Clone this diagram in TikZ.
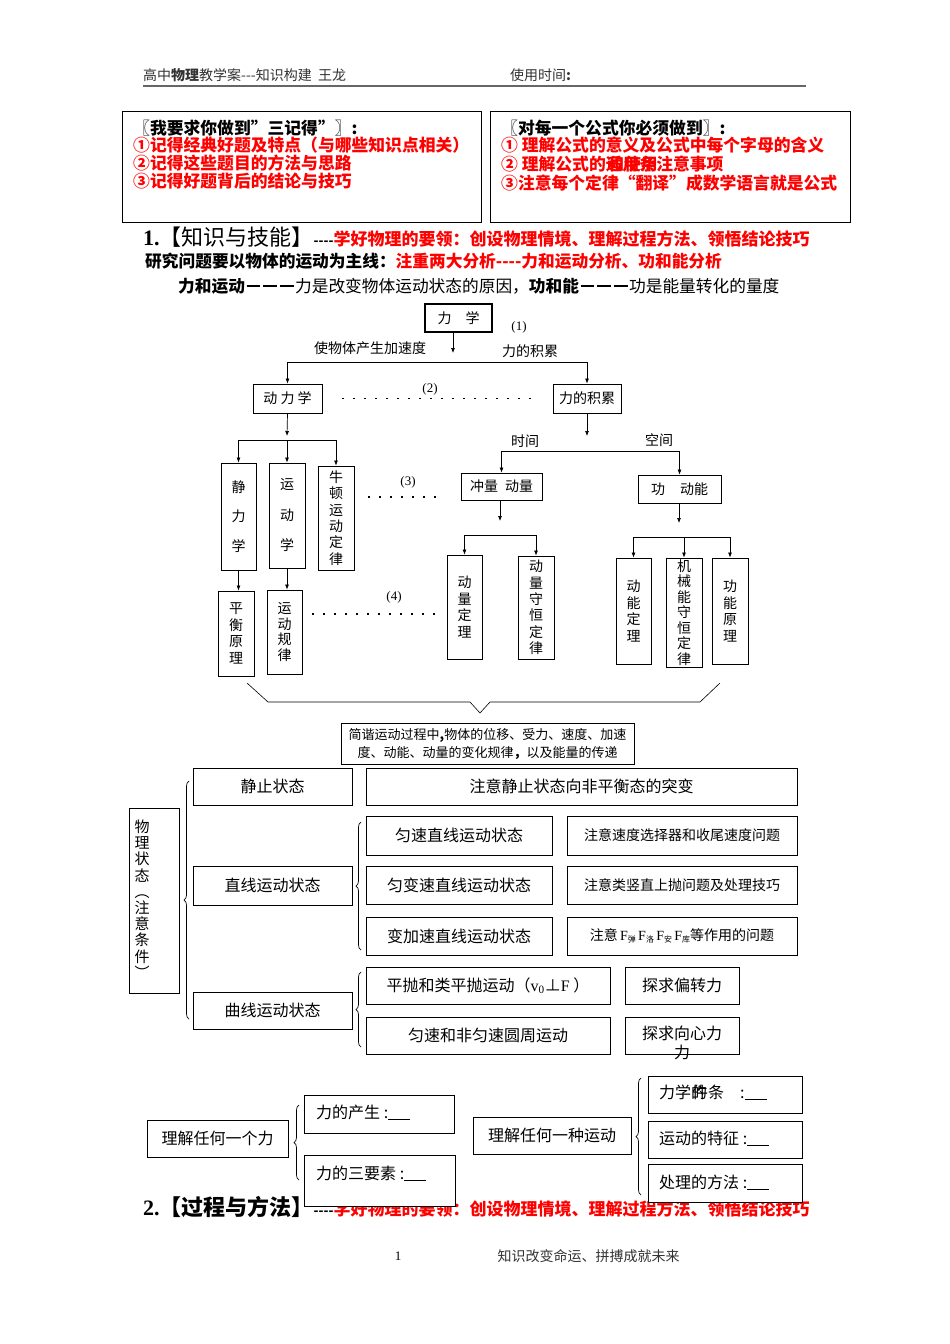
\documentclass[tikz,border=0pt]{standalone}
\usepackage{fontspec}
\setmainfont{Noto Sans CJK SC}
\newfontfamily\rmlatin{Liberation Serif}
\usetikzlibrary{arrows.meta,positioning,calc,decorations.pathreplacing}
\newcommand{\szhead}{\fontsize{14}{16}\selectfont}
\newcommand{\szbox}{\fontsize{16.8}{19}\selectfont}
\newcommand{\szsec}{\fontsize{22}{25}\selectfont}
\newcommand{\szline}{\fontsize{16.7}{20}\selectfont}
\newcommand{\szdiag}{\fontsize{14}{16.4}\selectfont}
\newcommand{\sznote}{\fontsize{13}{18}\selectfont}
\newcommand{\sztab}{\fontsize{16}{19}\selectfont}
\newcommand{\szcell}{\fontsize{14}{17}\selectfont}
\newcommand{\Fsub}[1]{\,{\rmlatin\fontsize{14}{17}\selectfont F}\raisebox{-1.5pt}{\fontsize{8}{8}\selectfont #1}}
\newcommand{\blank}{\rule[-1.5pt]{22pt}{0.8pt}}
\newcommand{\bardash}{\makebox[1em]{\rule[0.33em]{0.82em}{0.1em}}}

\begin{document}
\begin{tikzpicture}[
  x=1pt, y=-1pt,
  box/.style={draw, line width=0.9pt, inner sep=0pt, fill=white},
  vbox/.style={box, align=center, font=\szdiag},
  txt/.style={inner sep=0pt, anchor=west},
  arr/.style={-{Latex[length=5pt,width=4pt]}, line width=0.7pt},
  rail/.style={line width=0.7pt},
  dots/.style={line width=1.1pt, dash pattern=on 1.5pt off 9.5pt},
  brc/.style={decorate, decoration={brace, amplitude=5pt}, line width=0.7pt},
  tag/.style={inner sep=0pt, font=\rmlatin\fontsize{13}{15}\selectfont},
]
  % Page
  \fill[white] (0,0) rectangle (950,1344);
  \useasboundingbox (0,0) rectangle (950,1344);

  % Header
  \node[txt, font=\szhead, text=black!80] (hdr) at (143,75) {高中\textbf{物理}教学案-{}-{}-知识构建\ \ 王龙};
  \node[txt, font=\szhead, text=black!80] (usetime) at (510,75) {使用时间\textbf{:}};
  \draw[line width=2pt, black!60] (143,86) -- (806,86);

  % Requirement boxes
  \node[box, line width=1.1pt, anchor=north west, minimum width=359pt, minimum height=111pt] (reqL) at (122,111) {};
  \node[box, line width=1.1pt, anchor=north west, minimum width=360pt, minimum height=111pt] (reqR) at (490,111) {};
  \node[txt, font=\szbox\bfseries] (reqL0) at (133,128) {〖我要求你做到”三记得”〗:};
  \node[txt, font=\szbox\bfseries, text=red] (reqL1) at (133,145) {①记得经典好题及特点（与哪些知识点相关）};
  \node[txt, font=\szbox\bfseries, text=red] (reqL2) at (133,163) {②记得这些题目的方法与思路};
  \node[txt, font=\szbox\bfseries, text=red] (reqL3) at (133,181) {③记得好题背后的结论与技巧};
  \node[txt, font=\szbox\bfseries] (reqR0) at (501,128) {〖对每一个公式你必须做到〗:};
  \node[txt, font=\szbox\bfseries, text=red] (reqR1) at (501,145) {① 理解公式的意义及公式中每个字母的含义};
  \node[txt, font=\szbox\bfseries, text=red] (reqR2) at (501,164) {② 理解公式的\rlap{\hspace{1.5pt}和使用}适用条注意事项};
  \node[txt, font=\szbox\bfseries, text=red] (reqR3) at (501,183) {③注意每个定律“翻译”成数学语言就是公式};

  % Section 1
  \node[txt] (sec1) at (143,237) {{\rmlatin\bfseries\szsec 1.}{\szsec【知识与技能】}{\bfseries\fontsize{13}{15}\selectfont -{}-{}-{}-}{\color{red}\bfseries\fontsize{17}{20}\selectfont 学好物理的要领：创设物理情境、理解过程方法、领悟结论技巧}};
  \node[txt, font=\szline\bfseries] (main) at (145,261) {研究问题要以物体的运动为主线：{\color{red}注重两大分析-{}-{}-{}-力和运动分析、功和能分析}};
  \node[txt, font=\fontsize{16.7}{20}\selectfont] (force) at (178,286) {\textbf{力和运动\bardash\bardash\bardash}力是改变物体运动状态的原因，\textbf{功和能\bardash\bardash\bardash}功是能量转化的量度};

  % Mechanics tree
  \node[box, line width=1.1pt, minimum width=67pt, minimum height=28pt, font=\szdiag] (lixue) at (458.5,318) {力\quad 学};
  \node[tag] (t1) at (519,327) {(1)};
  \coordinate (j1) at (453,353);
  \draw[arr] (lixue.south -| j1) -- (j1);
  \node[inner sep=0pt, font=\szdiag] (acc) at (370,348) {使物体产生加速度};
  \node[inner sep=0pt, font=\szdiag] (accum) at (530,351) {力的积累};

  \node[box, minimum width=69pt, minimum height=29pt, font=\szdiag] (dlx) at (287.5,398.5) {动\ 力\ 学};
  \node[box, minimum width=68pt, minimum height=29pt, font=\szdiag] (lj) at (587,398.5) {力的积累};
  \coordinate (rail1) at (0,362);
  \draw[rail] (dlx.north |- rail1) -- (lj.north |- rail1);
  \draw[arr] (dlx.north |- rail1) -- (dlx.north);
  \draw[arr] (lj.north |- rail1) -- (lj.north);
  \draw[dots] ([xshift=20pt]dlx.east) -- ([xshift=-13pt]lj.west);
  \node[tag] (t2) at (430,389) {(2)};

  % Dynamics branch
  \node[vbox, minimum width=35pt, minimum height=107pt, font=\fontsize{14}{29.5}\selectfont] (jing) at (238.5,516.5) {静\\力\\学};
  \node[vbox, minimum width=36pt, minimum height=105pt, font=\fontsize{14}{30.5}\selectfont] (yun) at (287,515.5) {运\\动\\学};
  \node[vbox, minimum width=36pt, minimum height=104pt] (niu) at (336,518) {牛\\顿\\运\\动\\定\\律};
  \node[vbox, minimum width=36pt, minimum height=85pt] (ph) at (236,633.5) {平\\衡\\原\\理};
  \node[vbox, minimum width=35pt, minimum height=84pt, font=\fontsize{14}{15.5}\selectfont] (gl) at (284.5,632) {运\\动\\规\\律};
  \coordinate (j2) at (287,436);
  \coordinate (rail2) at (0,440);
  \draw[arr] (dlx.south) -- (j2);
  \draw[rail] (jing.north |- rail2) -- (niu.north |- rail2);
  \foreach \b in {jing, yun, niu}
    \draw[arr] (\b.north |- rail2) -- (\b.north);
  \draw[arr] (jing.south) -- (jing.south |- ph.north);
  \draw[arr] (yun.south) -- (yun.south |- gl.north);

  % Accumulation branch
  \coordinate (j3) at (587,436);
  \draw[arr] (lj.south) -- (j3);
  \node[inner sep=0pt, font=\szdiag] (time) at (525,441) {时间};
  \node[inner sep=0pt, font=\szdiag] (space) at (659,440) {空间};
  \node[box, minimum width=81pt, minimum height=27pt, font=\szdiag] (cl) at (501.5,486.5) {冲量\enspace 动量};
  \node[box, minimum width=83pt, minimum height=28pt, font=\szdiag] (gd) at (679.5,489) {功\hspace{15pt}动能};
  \coordinate (rail3) at (0,451);
  \draw[rail] (cl.north |- rail3) -- (gd.north |- rail3);
  \draw[arr] (cl.north |- rail3) -- (cl.north);
  \draw[arr] (gd.north |- rail3) -- (gd.north);

  \node[vbox, minimum width=35pt, minimum height=104pt] (dl) at (464.5,607) {动\\量\\定\\理};
  \node[vbox, minimum width=36pt, minimum height=103pt] (dsh) at (536,607.5) {动\\量\\守\\恒\\定\\律};
  \node[vbox, minimum width=35pt, minimum height=106pt] (dn) at (633.5,611) {动\\能\\定\\理};
  \node[vbox, minimum width=36pt, minimum height=109pt, font=\fontsize{14}{15.5}\selectfont] (jx) at (684,612.5) {机\\械\\能\\守\\恒\\定\\律};
  \node[vbox, minimum width=36pt, minimum height=106pt] (gn) at (730,611) {功\\能\\原\\理};
  \coordinate (j4) at (500,521);
  \coordinate (rail4) at (0,535);
  \draw[arr] (cl.south -| j4) -- (j4);
  \draw[rail] (dl.north |- rail4) -- (dsh.north |- rail4);
  \foreach \b in {dl, dsh}
    \draw[arr] (\b.north |- rail4) -- (\b.north);
  \coordinate (j5) at (679,523);
  \coordinate (rail5) at (0,537);
  \draw[arr] (gd.south -| j5) -- (j5);
  \draw[rail] (dn.north |- rail5) -- (gn.north |- rail5);
  \foreach \b in {dn, jx, gn}
    \draw[arr] (\b.north |- rail5) -- (\b.north);

  % Links between branches
  \draw[dots] ([xshift=14pt]niu.east |- 0,497) -- ([xshift=-7pt]dl.west |- 0,497);
  \node[tag] (t3) at (408,482) {(3)};
  \draw[dots] ([xshift=10pt]gl.east |- 0,614) -- ([xshift=-7pt]dl.west |- 0,614);
  \node[tag] (t4) at (394,597) {(4)};

  % Gathering brace
  \draw[line width=0.6pt] (247,683) -- (268,702) -- (470,702) -- (480,713) -- (490,702) -- (700,702) -- (720,683);
  \node[box, line width=0.8pt, minimum width=293pt, minimum height=41pt, align=center, font=\sznote] (shm) at (487.5,743.5)
    {简谐运动过程中\textbf{,}物体的位移、受力、速度、加速\\度、动能、动量的变化规律\textbf{，}以及能量的传递};

  % Physical states
  \node[box, minimum width=50pt, minimum height=185pt] (wl) at (154,900.5) {};
  \node[inner sep=0pt, align=center, font=\fontsize{15}{16.2}\selectfont] (wltext) at (142,899) {物\\理\\状\\态\\︵\\注\\意\\条\\件\\︶};
  \draw[brc] (189,1019) -- (189,781);

  \node[box, minimum width=159pt, minimum height=37pt, font=\sztab] (jz) at (272.5,786.5) {静止状态};
  \node[box, minimum width=431pt, minimum height=37pt, font=\sztab] (jzn) at (581.5,786.5) {注意静止状态向非平衡态的突变};

  \node[box, minimum width=159pt, minimum height=39pt, font=\sztab] (zx) at (272.5,885.5) {直线运动状态};
  \draw[brc] (361,950) -- (361,822);
  \node[box, minimum width=186pt, minimum height=39pt, font=\sztab] (ys) at (459,835.5) {匀速直线运动状态};
  \node[box, minimum width=230pt, minimum height=39pt, font=\szcell] (ysn) at (682,835.5) {注意速度选择器和收尾速度问题};
  \node[box, minimum width=186pt, minimum height=38pt, font=\sztab] (ybs) at (459,885) {匀变速直线运动状态};
  \node[box, minimum width=230pt, minimum height=38pt, font=\szcell] (ybsn) at (682,885) {注意类竖直上抛问题及处理技巧};
  \node[box, minimum width=186pt, minimum height=38pt, font=\sztab] (bjs) at (459,936) {变加速直线运动状态};
  \node[box, minimum width=230pt, minimum height=38pt, font=\szcell] (bjsn) at (682,936) {注意\Fsub{弹}\Fsub{洛}\Fsub{安}\Fsub{库}等作用的问题};

  \node[box, minimum width=159pt, minimum height=37pt, font=\sztab] (qx) at (272.5,1010.5) {曲线运动状态};
  \draw[brc] (361,1047) -- (361,972);
  \node[box, minimum width=244pt, minimum height=37pt, font=\sztab] (pp) at (488,985.5) {平抛和类平抛运动（{\rmlatin v}\textsubscript{\rmlatin 0}⊥{\rmlatin F}\ ）};
  \node[box, minimum width=114pt, minimum height=37pt, font=\sztab] (pz) at (682,985.5) {探求偏转力};
  \node[box, minimum width=244pt, minimum height=37pt, font=\sztab] (yz) at (488,1035.5) {匀速和非匀速圆周运动};
  \node[box, minimum width=114pt, minimum height=37pt] (xx) at (682,1035.5) {};
  \node[inner sep=0pt, align=center, font=\fontsize{16}{19}\selectfont] (xxtext) at (682,1043) {探求向心力\\力};

  % Section 2 heading
  \node[txt] (sec2) at (143,1207) {{\rmlatin\bfseries\szsec 2.}{\bfseries\szsec【过程与方法】}{\bfseries\fontsize{13}{15}\selectfont -{}-{}-{}-}{\color{red}\bfseries\fontsize{17}{20}\selectfont 学好物理的要领：创设物理情境、理解过程方法、领悟结论技巧}};

  % Understanding a force
  \node[box, minimum width=141pt, minimum height=37pt, font=\sztab] (lf) at (217.5,1138.5) {理解任何一个力};
  \draw[brc] (299,1180) -- (299,1105);
  \node[box, minimum width=150pt, minimum height=38pt] (lc) at (379,1114) {};
  \node[txt, font=\sztab] (lctext) at (316,1112) {力的产生 :\blank};
  \node[box, minimum width=151pt, minimum height=51pt] (lsy) at (379.5,1180.5) {};
  \node[txt, font=\sztab] (lsytext) at (316,1173) {力的三要素 :\blank};

  % Understanding a motion
  \node[box, minimum width=158pt, minimum height=37pt, font=\sztab] (ly) at (552,1135.5) {理解任何一种运动};
  \draw[brc] (641,1195) -- (641,1078);
  \node[box, minimum width=154pt, minimum height=37pt] (ltj) at (725,1094.5) {};
  \node[txt, font=\sztab] (ltjtext) at (659,1092) {力学\rlap{的}\hspace{1pt}件条\hspace{16pt}:\blank};
  \node[box, minimum width=154pt, minimum height=37pt] (tz) at (725,1139.5) {};
  \node[txt, font=\sztab] (tztext) at (659,1138) {运动的特征 :\blank};
  \node[box, minimum width=154pt, minimum height=38pt] (ff) at (725,1183) {};
  \node[txt, font=\sztab] (fftext) at (659,1182) {处理的方法 :\blank};

  % Footer
  \node[tag] (page) at (398,1256) {1};
  \node[inner sep=0pt, font=\szdiag, text=black!80] (motto) at (588.5,1256) {知识改变命运、拼搏成就未来};
\end{tikzpicture}
\end{document}
